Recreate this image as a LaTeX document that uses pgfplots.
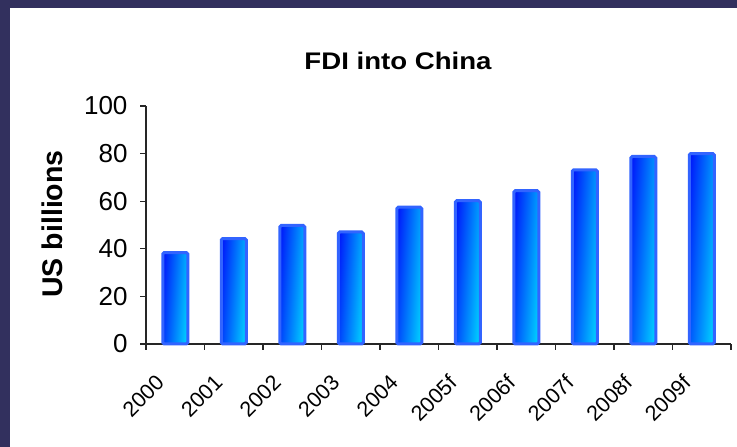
\documentclass[border=0pt]{standalone}
\usepackage{pgfplots}
\pgfplotsset{compat=1.18}
\usepackage{fontspec}
\setmainfont{Liberation Sans}
\definecolor{frame}{RGB}{50,48,94}
\definecolor{barline}{RGB}{50,100,255}
\definecolor{bardark}{RGB}{0,25,250}
\definecolor{barlight}{RGB}{0,210,255}
\pgfplotsset{fdibar/.style={ybar, bar width=25pt, bar shift=0pt, draw=barline, line width=3pt, rounded corners=1.5pt,
  left color=bardark, right color=barlight, shading angle=86}}
\begin{document}
\begin{tikzpicture}
\useasboundingbox (0pt,0pt) rectangle (737pt,447pt);
\fill[frame] (0pt,0pt) rectangle (737pt,447pt);
\fill[white] (10pt,0pt) rectangle (737pt,439pt);
\begin{axis}[
  at={(146pt,103pt)}, anchor=south west,
  scale only axis, width=585pt, height=238pt,
  xmin=0, xmax=10, ymin=0, ymax=100,
  axis lines*=left,
  axis line style={line width=1.1pt, color=black!85},
  tick style={line width=1.1pt, color=black!85},
  tick align=outside,
  major tick length=6pt,
  xtick={0,1,...,10},
  xticklabels={},
  extra x ticks={0.5,1.5,...,9.5},
  extra x tick labels={2000,2001,2002,2003,2004,2005f,2006f,2007f,2008f,2009f},
  extra x tick style={major tick length=0pt},
  xticklabel style={xshift=-15pt, yshift=-35pt, rotate=45, anchor=east, inner sep=0pt, font=\fontsize{21.5}{21.5}\selectfont},
  ytick={0,20,...,100},
  yticklabel style={xshift=-9pt, font=\fontsize{26}{26}\selectfont},
  /pgf/number format/assume math mode=true,
  clip=false,
]
\addplot[fdibar] coordinates {(0.5,38.4)};
\addplot[fdibar] coordinates {(1.5,44.3)};
\addplot[fdibar] coordinates {(2.5,49.8)};
\addplot[fdibar] coordinates {(3.5,47.1)};
\addplot[fdibar] coordinates {(4.5,57.5)};
\addplot[fdibar] coordinates {(5.5,60.2)};
\addplot[fdibar] coordinates {(6.5,64.4)};
\addplot[fdibar] coordinates {(7.5,73.2)};
\addplot[fdibar] coordinates {(8.5,78.8)};
\addplot[fdibar] coordinates {(9.5,80.0)};
\end{axis}
\node[anchor=base, font=\bfseries\fontsize{24}{24}\selectfont] at (398pt,377.7pt) {\scalebox{1.15}[1]{FDI into China}};
\node[anchor=base, rotate=90, font=\bfseries\fontsize{28.5}{28.5}\selectfont] at (62.5pt,223pt) {US billions};
\end{tikzpicture}
\end{document}
